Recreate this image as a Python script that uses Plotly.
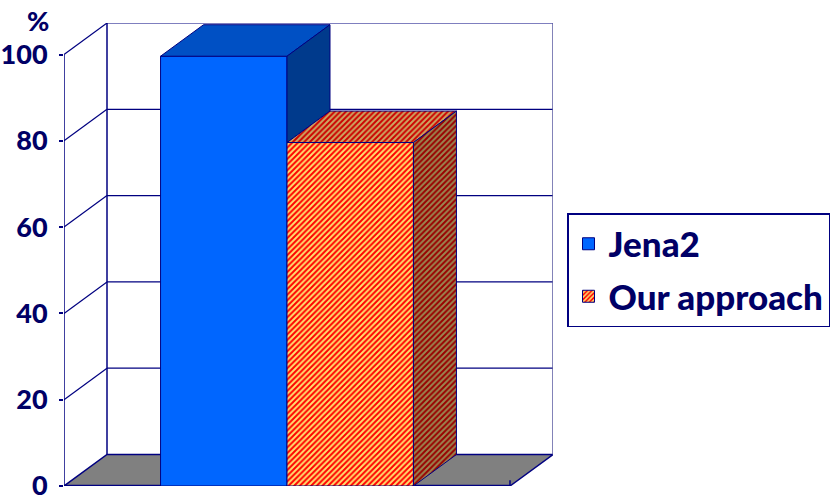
import plotly.graph_objects as go

# ---------------- data ----------------
series = ["Jena2", "Our approach"]
values = [99.6, 79.6]
y_ticks = [0, 20, 40, 60, 80, 100]
y_unit = "%"

# ---------------- layout constants ----------------
FIG_W, FIG_H = 834, 502
M_L, M_R, M_T, M_B = 64, 281, 23, 16
DEPTH_PX_X, DEPTH_PX_Y = 43, 31.5
FRONT_W_PX = 446
GROUP_FRAC = 0.567
NAVY = "#000066"
LINE = "#000080"
FONT = "Lato"

plot_w = FIG_W - M_L - M_R
plot_h = FIG_H - M_T - M_B
y_top = max(y_ticks)
dxu = DEPTH_PX_X / FRONT_W_PX
x_max = 1 + dxu
dyu = DEPTH_PX_Y * y_top / (plot_h - DEPTH_PX_Y)
y_max = y_top + dyu

pat = lambda bg, fg: dict(shape="/", bgcolor=bg, fgcolor=fg, size=4,
                          solidity=0.5, fillmode="replace")

styles = [
    dict(front=dict(color="#0066FF", line=dict(color=LINE, width=1)),
         top=dict(fill="#0050C4"), side=dict(fill="#003A8C")),
    dict(front=dict(color="#FF0000", line=dict(color=LINE, width=1),
                    pattern=pat("#FF0000", "#FFE070")),
         top=dict(fill="#CC0000", pat=pat("#CC0000", "#CCA862")),
         side=dict(fill="#990000", pat=pat("#990000", "#9A8650"))),
]

fig = go.Figure()

n = len(series)
bar_w = GROUP_FRAC / n
centers = [0.5 - GROUP_FRAC / 2 + bar_w * (i + 0.5) for i in range(n)]

# front faces (bars)
for i, (name, v) in enumerate(zip(series, values)):
    fig.add_trace(go.Bar(
        x=[centers[i]], y=[v], width=[bar_w], name=name,
        marker=styles[i]["front"], legendgroup=name, hoverinfo="skip",
    ))

# top and side faces
for i, (name, v) in enumerate(zip(series, values)):
    x0 = centers[i] - bar_w / 2
    x1 = centers[i] + bar_w / 2
    st = styles[i]
    kw = dict(fillcolor=st["top"]["fill"])
    if "pat" in st["top"]:
        kw["fillpattern"] = st["top"]["pat"]
    fig.add_trace(go.Scatter(
        x=[x0, x1, x1 + dxu, x0 + dxu, x0], y=[v, v, v + dyu, v + dyu, v],
        mode="lines", fill="toself", line=dict(color=LINE, width=1),
        showlegend=False, hoverinfo="skip", **kw))
    lo = 0
    if i + 1 < n and values[i + 1] < v:
        lo = values[i + 1]
    kw = dict(fillcolor=st["side"]["fill"])
    if "pat" in st["side"]:
        kw["fillpattern"] = st["side"]["pat"]
    fig.add_trace(go.Scatter(
        x=[x1, x1, x1 + dxu, x1 + dxu, x1], y=[lo, v, v + dyu, lo + dyu, lo],
        mode="lines", fill="toself", line=dict(color=LINE, width=1),
        showlegend=False, hoverinfo="skip", **kw))

# walls, floor, gridlines as shapes (below traces)
shapes = []
shapes.append(dict(type="path", xref="x", yref="y", layer="below",
                   path=f"M 0,0 L 1,0 L {x_max},{dyu} L {dxu},{dyu} Z",
                   fillcolor="#808080", line=dict(color=LINE, width=1.5)))
for t in y_ticks:
    shapes.append(dict(type="line", xref="x", yref="y", layer="below",
                       x0=dxu, x1=x_max, y0=t + dyu, y1=t + dyu,
                       line=dict(color=LINE, width=1.2)))
    if t > 0:
        shapes.append(dict(type="line", xref="x", yref="y", layer="below",
                           x0=0, x1=dxu, y0=t, y1=t + dyu,
                           line=dict(color=LINE, width=1.2)))
shapes.append(dict(type="line", xref="x", yref="y", layer="below",
                   x0=dxu, x1=dxu, y0=dyu, y1=y_top + dyu, line=dict(color=LINE, width=1.5)))
shapes.append(dict(type="line", xref="x", yref="y", layer="below",
                   x0=x_max, x1=x_max, y0=dyu, y1=y_top + dyu, line=dict(color="#5A5AA0", width=1.5)))
shapes.append(dict(type="line", xref="x", yref="y", layer="below",
                   x0=0, x1=0, y0=0, y1=y_top, line=dict(color=LINE, width=1.5)))
shapes.append(dict(type="line", xref="x", yref="y", layer="below",
                   x0=0, x1=1, y0=0, y1=0, line=dict(color=LINE, width=2.5)))
shapes.append(dict(type="line", xref="x", yref="y", layer="below",
                   x0=1, x1=1, y0=0, y1=dyu * 0.18, line=dict(color=LINE, width=1.5)))

fig.update_layout(
    width=FIG_W, height=FIG_H,
    margin=dict(l=M_L, r=M_R, t=M_T, b=M_B, autoexpand=False),
    paper_bgcolor="white", plot_bgcolor="white",
    barmode="overlay",
    shapes=shapes,
    showlegend=True,
    legend=dict(x=(567 - M_L) / plot_w, y=(FIG_H - M_B - 213) / plot_h,
                xanchor="left", yanchor="top",
                bordercolor=LINE, borderwidth=1.5, bgcolor="white",
                font=dict(family=FONT, size=35, color=NAVY, weight=900),
                tracegroupgap=4, itemwidth=30),
    xaxis=dict(range=[0, x_max], visible=False, fixedrange=True, automargin=False),
    yaxis=dict(range=[0, y_max], tickvals=y_ticks, ticks="outside", ticklen=4,
               tickcolor=LINE, tickwidth=1.5, showgrid=False, zeroline=False,
               showline=False, ticklabelstandoff=6, automargin=False,
               ticklabeloverflow="allow",
               tickfont=dict(family=FONT, size=27, color=NAVY, weight=900),
               fixedrange=True),
    annotations=[dict(text=y_unit, xref="paper", yref="paper",
                      x=(38 - M_L) / plot_w, y=(FIG_H - M_B - 21) / plot_h,
                      xanchor="center", yanchor="middle", showarrow=False,
                      font=dict(family=FONT, size=27, color=NAVY, weight=900))],
)

fig.write_html("out.html")
